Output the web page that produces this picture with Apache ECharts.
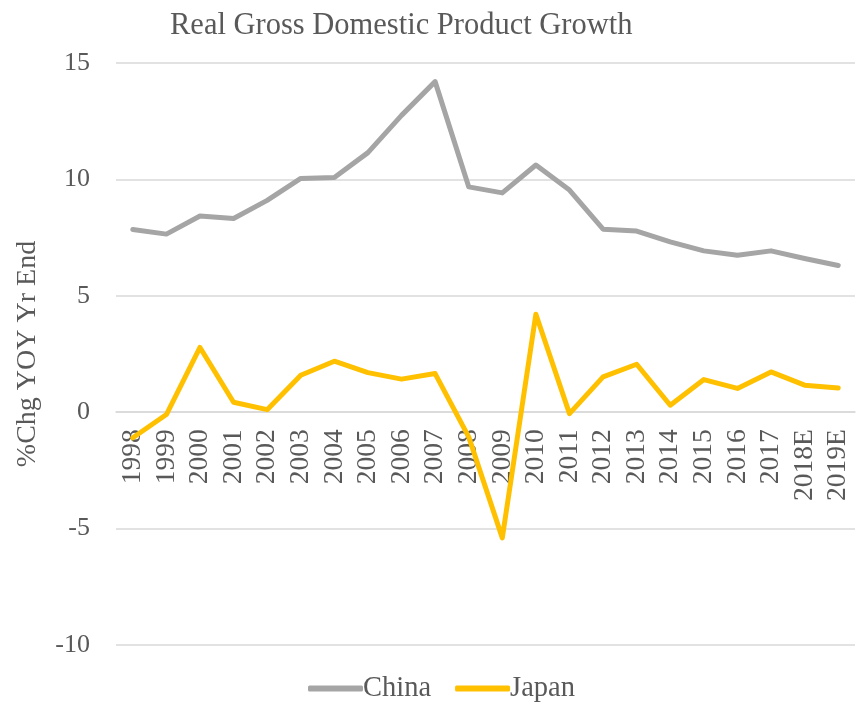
<!DOCTYPE html>
<html><head><meta charset="utf-8">
<script src="https://cdn.jsdelivr.net/npm/echarts@6/dist/echarts.min.js"></script>
<style>html,body{margin:0;padding:0;background:#fff}#c{width:861px;height:703px}</style>
</head><body><div id="c"></div>
<script>
const categories = ['1998','1999','2000','2001','2002','2003','2004','2005','2006','2007','2008','2009','2010','2011','2012','2013','2014','2015','2016','2017','2018E','2019E'];
const china = [7.85,7.65,8.43,8.32,9.1,10.04,10.08,11.15,12.75,14.2,9.68,9.42,10.62,9.54,7.86,7.78,7.32,6.93,6.74,6.93,6.6,6.3];
const japan = [-1.1,-0.1,2.78,0.43,0.11,1.59,2.19,1.7,1.42,1.66,-1.06,-5.4,4.21,-0.06,1.52,2.06,0.3,1.4,1.02,1.73,1.16,1.04];
const yTicks = {min:-10, max:15, interval:5};
const FONT = '"Liberation Serif", "Times New Roman", serif';
const chart = echarts.init(document.getElementById('c'));
const gridTop = 63, gridBottom = 58, plotH = 703 - gridTop - gridBottom;
const zeroOffset = -plotH * (0 - yTicks.min) / (yTicks.max - yTicks.min);
chart.setOption({
  animation:false,
  textStyle:{fontFamily:FONT},
  title:{text:'Real Gross Domestic Product Growth', left:165, top:5,
    textStyle:{fontFamily:FONT, fontSize:30.5, fontWeight:'normal', color:'#595959'}},
  legend:{top:669, left:303, itemWidth:55, itemHeight:6, itemGap:24,
    icon:'roundRect',
    textStyle:{fontFamily:FONT, fontSize:28.5, color:'#595959', padding:[0,0,0,-5]},
    data:['China','Japan']},
  grid:{left:116, right:6, top:gridTop, bottom:gridBottom, containLabel:false},
  xAxis:{type:'category', data:categories, boundaryGap:true, offset:zeroOffset,
    axisLine:{onZero:false, lineStyle:{color:'#D9D9D9', width:1.5}},
    axisTick:{show:false},
    axisLabel:{rotate:90, interval:0, fontFamily:FONT, fontSize:27.5, color:'#595959', margin:17}},
  yAxis:{type:'value', min:yTicks.min, max:yTicks.max, interval:yTicks.interval,
    name:'%Chg YOY Yr End', nameLocation:'middle', nameGap:74,
    nameTextStyle:{fontFamily:FONT, fontSize:28, color:'#595959'},
    axisLine:{show:false}, axisTick:{show:false},
    axisLabel:{fontFamily:FONT, fontSize:26, color:'#595959', margin:26},
    splitLine:{lineStyle:{color:'#D9D9D9', width:1.5}}},
  series:[
    {name:'China', type:'line', data:china, symbol:'none', lineStyle:{color:'#A5A5A5', width:5, join:'round', cap:'round'}, itemStyle:{color:'#A5A5A5'}},
    {name:'Japan', type:'line', data:japan, symbol:'none', lineStyle:{color:'#FFC000', width:5, join:'round', cap:'round'}, itemStyle:{color:'#FFC000'}}
  ]
});
</script></body></html>
